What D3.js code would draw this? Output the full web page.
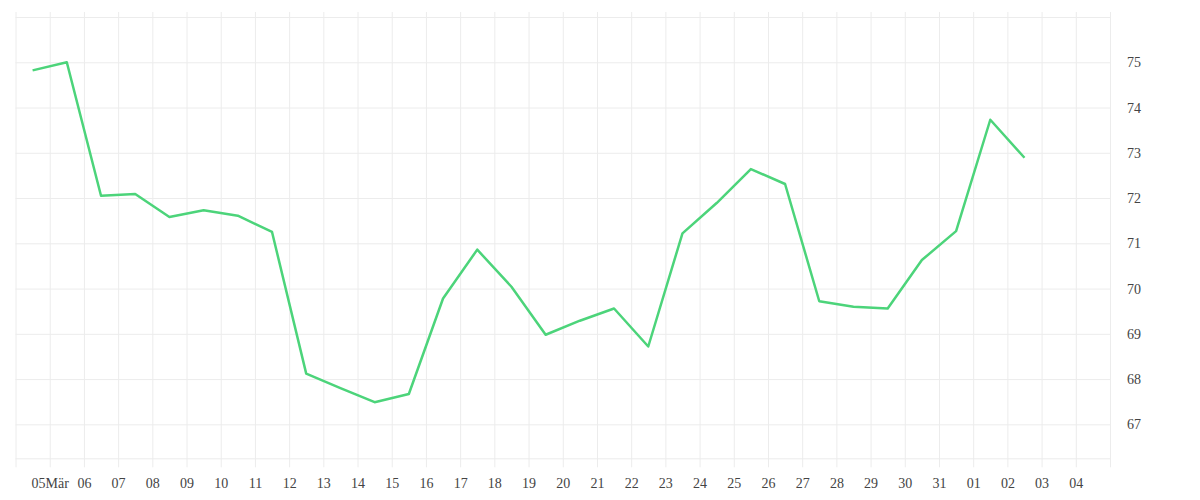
<!DOCTYPE html>
<html>
<head>
<meta charset="utf-8">
<script src="https://cdn.jsdelivr.net/npm/d3@7"></script>
<style>
  body { margin: 0; background: #fff; }
  .grid line { stroke: #ececec; stroke-width: 1; }
  .grid .domain { display: none; }
  .lbl .domain { display: none; }
  .lbl text { font-family: "Liberation Serif", serif; fill: #444; }
</style>
</head>
<body>
<div id="chart"></div>
<script>
// daily values (one per day, drawn at noon)
var dates = ["2025-03-04","2025-03-05","2025-03-06","2025-03-07","2025-03-08","2025-03-09",
  "2025-03-10","2025-03-11","2025-03-12","2025-03-13","2025-03-14","2025-03-15","2025-03-16",
  "2025-03-17","2025-03-18","2025-03-19","2025-03-20","2025-03-21","2025-03-22","2025-03-23",
  "2025-03-24","2025-03-25","2025-03-26","2025-03-27","2025-03-28","2025-03-29","2025-03-30",
  "2025-03-31","2025-04-01","2025-04-02"];
var values = [74.82, 75.0, 72.05, 72.09, 71.58, 71.73, 71.61, 71.25, 68.12, 67.8, 67.49, 67.67,
  69.78, 70.86, 70.04, 68.98, 69.29, 69.56, 68.72, 71.22, 71.89, 72.64, 72.31, 69.72, 69.6,
  69.56, 70.63, 71.27, 73.73, 72.89];
var yTicks = [67, 68, 69, 70, 71, 72, 73, 74, 75];
var xStart = "2025-03-04", xEnd = "2025-04-05";
var yMin = 66.25, yMax = 76;

var W = 1200, H = 500;
var plotLeft = 15.5, plotRight = 1110, plotTop = 17, plotBottom = 458.3;

var parse = d3.utcParse("%Y-%m-%d");
var data = dates.map(function(d, i) {
  return { t: d3.utcHour.offset(parse(d), 12), v: values[i] };
});

var svg = d3.select("#chart").append("svg")
  .attr("width", W).attr("height", H);

var x = d3.scaleUtc().domain([parse(xStart), parse(xEnd)]).range([plotLeft, plotRight]);
var y = d3.scaleLinear().domain([yMin, yMax]).range([plotBottom, plotTop]);

var allDays = d3.utcDay.range(parse(xStart), d3.utcDay.offset(parse(xEnd), 1));
var labelDays = allDays.slice(1, allDays.length - 1);

// vertical grid
svg.append("g").attr("class", "grid")
  .attr("transform", "translate(0," + (plotBottom + 9) + ")")
  .call(d3.axisBottom(x).tickValues(allDays).tickSize(-(plotBottom + 9 - 12)).tickFormat(""));

// horizontal grid
svg.append("g").attr("class", "grid")
  .attr("transform", "translate(" + plotRight + ",0)")
  .call(d3.axisRight(y).tickValues(yTicks.concat([yMin, yMax])).tickSize(-(plotRight - plotLeft)).tickFormat(""));

// x labels
var fmt = d3.utcFormat("%d");
svg.append("g").attr("class", "lbl")
  .attr("transform", "translate(0," + plotBottom + ")")
  .call(d3.axisBottom(x).tickValues(labelDays).tickSize(0).tickPadding(20)
    .tickFormat(function(d, i) { return i === 0 ? fmt(d) + "Mär" : fmt(d); }))
  .selectAll("text").style("font-size", "14px");

// y labels
svg.append("g").attr("class", "lbl")
  .attr("transform", "translate(" + plotRight + ",0)")
  .call(d3.axisRight(y).tickValues(yTicks).tickSize(0).tickPadding(17).tickFormat(d3.format("d")))
  .selectAll("text").style("font-size", "14px");

// the line
var line = d3.line().x(function(d) { return x(d.t); }).y(function(d) { return y(d.v); });
svg.append("path").datum(data)
  .attr("d", line)
  .attr("fill", "none")
  .attr("stroke", "#4cd47a")
  .attr("stroke-width", 2.5)
  .attr("stroke-linejoin", "round");
</script>
</body>
</html>
